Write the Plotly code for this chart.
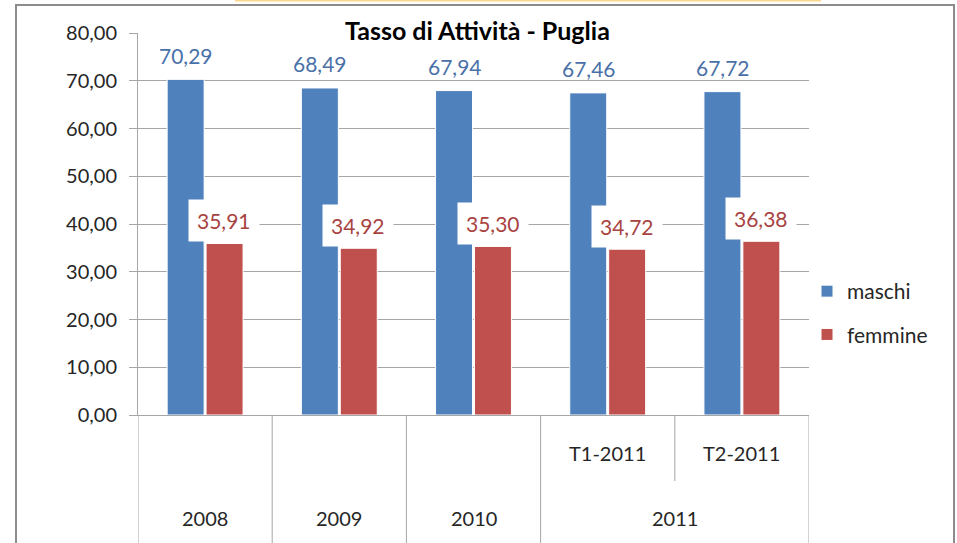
import plotly.graph_objects as go

# ---- data ----
years = ["2008", "2009", "2010", "2011", "2011"]
periods = ["", "", "", "T1-2011", "T2-2011"]
categories = ["2008", "2009", "2010", "T1-2011", "T2-2011"]
maschi = [70.29, 68.49, 67.94, 67.46, 67.72]
femmine = [35.91, 34.92, 35.30, 34.72, 36.38]
y_ticks = [0, 10, 20, 30, 40, 50, 60, 70, 80]
title_text = "Tasso di Attività - Puglia"

BLUE = "#4F81BD"
RED = "#C0504D"
FONT = "Lato"
TXT = "#262626"
GRID = "#A6A6A6"

fig = go.Figure()
fig.add_trace(go.Bar(x=categories, y=maschi, name="maschi", marker_color=BLUE,
                     marker_line=dict(color="white", width=1), legendgroup="m"))
fig.add_trace(go.Bar(x=categories, y=femmine, name="femmine", marker_color=RED,
                     marker_line=dict(color="white", width=1), legendgroup="f"))

L, R, T, B = 138, 148, 33, 128
W, H = 957, 543
pw, ph = W - L - R, H - T - B


def px_x(p):
    return (p - L) / pw


def px_y(p):
    return (H - B - p) / ph


ann = []
# data labels
for i, c in enumerate(categories):
    ann.append(dict(x=i, y=maschi[i], xref="x", yref="y", text=f"{maschi[i]:.2f}".replace(".", ","),
                    showarrow=False, xshift=-19, yshift=24, yanchor="middle",
                    font=dict(family=FONT, size=21, color="#4A70A8")))
    ann.append(dict(x=i, y=femmine[i], xref="x", yref="y", text=f"{femmine[i]:.2f}".replace(".", ","),
                    showarrow=False, xshift=19, yshift=23, yanchor="middle", bgcolor="white",
                    borderpad=8, font=dict(family=FONT, size=21, color="#A8423F")))

# inner category labels
for i, p in enumerate(periods):
    if p:
        ann.append(dict(x=i, y=0, xref="x", yref="paper", text=p, showarrow=False,
                        yshift=-38, yanchor="middle", font=dict(family=FONT, size=20, color=TXT)))
# outer (year) labels
groups = []
for i, yv in enumerate(years):
    if groups and groups[-1][0] == yv:
        groups[-1][1].append(i)
    else:
        groups.append([yv, [i]])
for yv, idx in groups:
    ann.append(dict(x=sum(idx) / len(idx), y=0, xref="x", yref="paper", text=yv, showarrow=False,
                    yshift=-103, yanchor="middle", font=dict(family=FONT, size=20, color=TXT)))

# title
ann.append(dict(x=0.5, y=80, xref="paper", yref="y", text=f"<b>{title_text}</b>", showarrow=False,
                xshift=4, yshift=3, yanchor="middle", bgcolor="white", borderpad=4,
                font=dict(family=FONT, size=25, color="#000000")))

shapes = []
# divider lines in category axis
n = len(categories)
for b in range(n + 1):
    xb = b - 0.5
    if b == 0 or b == n or years[b - 1] != years[b]:
        y1 = px_y(H + 20)
    else:
        y1 = px_y(481)
    shapes.append(dict(type="line", xref="x", yref="paper", x0=xb, x1=xb, y0=0, y1=y1,
                       line=dict(color=GRID, width=1)))
# outer frame
shapes.append(dict(type="rect", xref="paper", yref="paper", x0=px_x(16), x1=px_x(954),
                   y0=px_y(H + 30), y1=px_y(5), line=dict(color="#8C8C8C", width=2)))
# yellow edge at top
shapes.append(dict(type="line", xref="paper", yref="paper", x0=px_x(235), x1=px_x(821),
                   y0=px_y(0.5), y1=px_y(0.5), line=dict(color="#FAD88C", width=2)))

fig.update_layout(
    width=W, height=H,
    margin=dict(l=L, r=R, t=T, b=B),
    paper_bgcolor="white", plot_bgcolor="white",
    separators=",.",
    barmode="group", bargap=0.42, bargroupgap=0.05,
    showlegend=True,
    legend=dict(x=px_x(807), y=px_y(271), xanchor="left", yanchor="top",
                font=dict(family=FONT, size=21, color=TXT), traceorder="grouped",
                tracegroupgap=13, bgcolor="rgba(0,0,0,0)"),
    annotations=ann,
    shapes=shapes,
    xaxis=dict(type="category", showticklabels=False, showgrid=False, zeroline=False,
               showline=True, linecolor=GRID, linewidth=1, range=[-0.5, n - 0.5], fixedrange=True),
    yaxis=dict(range=[0, 80], tickvals=y_ticks, tickformat=".2f", showgrid=True, gridcolor=GRID,
               gridwidth=1, zeroline=False, showline=True, linecolor=GRID, linewidth=1,
               ticks="outside", ticklen=8, tickcolor=GRID, ticklabelstandoff=8,
               tickfont=dict(family=FONT, size=20, color=TXT)),
)

fig.write_html("out.html", config={"displayModeBar": False},
               post_script="document.body.style.margin='0px';")
